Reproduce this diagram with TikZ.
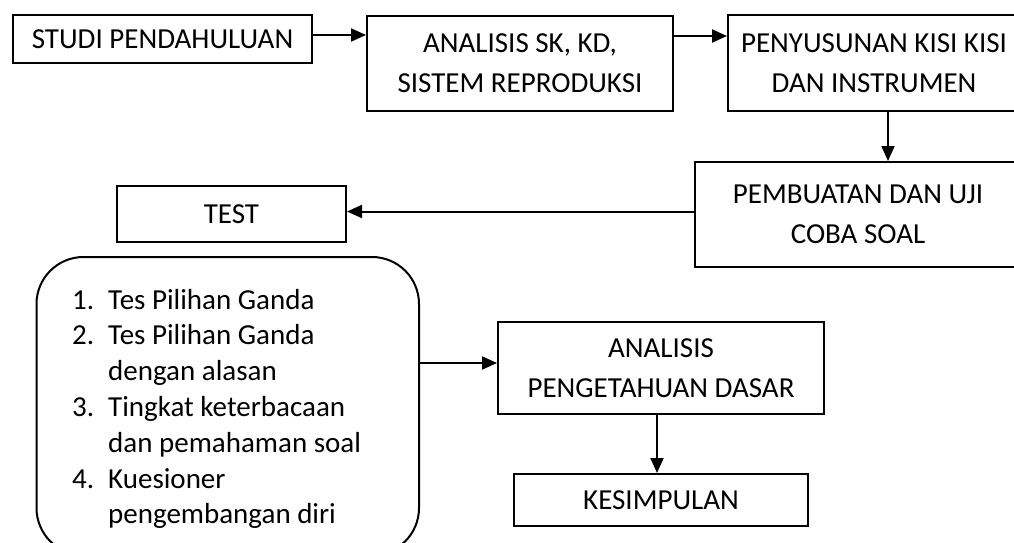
\documentclass[tikz,border=0pt]{standalone}
\usepackage{fontspec}
\setmainfont{Carlito}
\usetikzlibrary{arrows.meta}
\begin{document}
\begin{tikzpicture}[x=1pt,y=-1pt,
  box/.style={draw, line width=2pt, inner sep=0pt, align=center, font=\fontsize{29}{40}\selectfont},
  conn/.style={line width=2pt, -{Triangle[length=15pt,width=13pt]}}]
\useasboundingbox (0,0) rectangle (1014,543);
\node[box, minimum width=299pt, minimum height=48pt] (studi) at (162.5,39) {STUDI PENDAHULUAN};
\node[box, minimum width=306pt, minimum height=95pt] (analisis) at (520,63.5) {ANALISIS SK, KD,\\SISTEM REPRODUKSI};
\node[box, minimum width=292pt, minimum height=96pt] (susun) at (874,63) {PENYUSUNAN KISI KISI\\DAN INSTRUMEN};
\node[box, minimum width=326pt, minimum height=105pt] (buat) at (858,214.5) {PEMBUATAN DAN UJI\\COBA SOAL};
\node[box, minimum width=229pt, minimum height=56pt] (test) at (231.5,214) {TEST};
\node[draw, line width=2pt, rounded corners=47pt, minimum width=382.5pt, minimum height=298pt] (listbox) at (227.75,406) {};
\begin{scope}
\clip (0,0) rectangle (1014,535);
\node[anchor=base west, inner sep=0pt, font=\fontsize{29}{35.8}\selectfont] (listtext) at (72,309)
{\begin{tabular}[t]{@{}l@{}}
\makebox[36pt][l]{1.}Tes Pilihan Ganda\\
\makebox[36pt][l]{2.}Tes Pilihan Ganda\\
\hspace*{36pt}dengan alasan\\
\makebox[36pt][l]{3.}Tingkat keterbacaan\\
\hspace*{36pt}dan pemahaman soal\\
\makebox[36pt][l]{4.}Kuesioner\\
\hspace*{36pt}pengembangan diri
\end{tabular}};
\end{scope}
\node[box, minimum width=326pt, minimum height=92pt] (dasar) at (661,368) {ANALISIS\\PENGETAHUAN DASAR};
\node[box, minimum width=294pt, minimum height=52pt] (simpul) at (661,500) {KESIMPULAN};
\draw[conn] ([yshift=4pt]studi.east) -- ([yshift=4pt]studi.east -| analisis.west);
\draw[conn] ([yshift=27.5pt]analisis.east) -- ([yshift=27.5pt]analisis.east -| susun.west);
\draw[conn] ([xshift=14pt]susun.south) -- ([xshift=14pt]susun.south |- buat.north);
\draw[conn] ([yshift=3pt]buat.west) -- ([yshift=3pt]buat.west -| test.east);
\draw[conn] ([yshift=5pt]dasar.west -| listbox.east) -- ([yshift=5pt]dasar.west);
\draw[conn] ([xshift=-4pt]dasar.south) -- ([xshift=-4pt]simpul.north);
\end{tikzpicture}
\end{document}
